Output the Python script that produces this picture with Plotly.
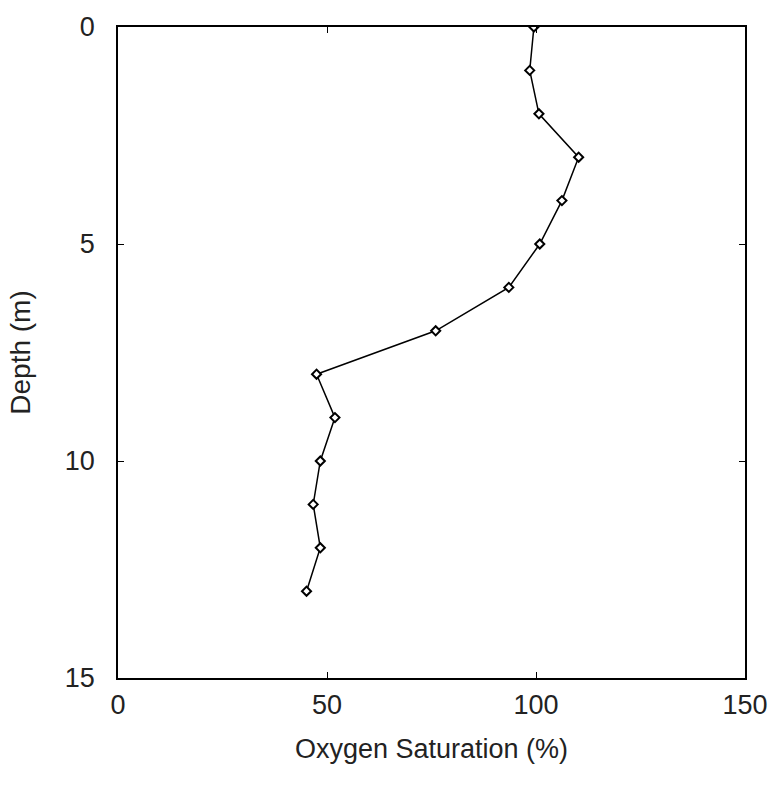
import plotly.graph_objects as go

depth = [0, 1, 2, 3, 4, 5, 6, 7, 8, 9, 10, 11, 12, 13]
oxygen_sat = [99.5, 98.5, 100.7, 110.2, 106.2, 100.9, 93.5, 76.0, 47.5, 51.9, 48.4, 46.7, 48.4, 45.1]

x_ticks = [0, 50, 100, 150]
y_ticks = [0, 5, 10, 15]

fig = go.Figure()
fig.add_trace(go.Scatter(
    x=oxygen_sat, y=depth, mode="lines+markers",
    line=dict(color="black", width=1.5),
    marker=dict(symbol="diamond", size=7, color="white",
                line=dict(color="black", width=2)),
    showlegend=False,
))

fam = "Liberation Sans, Arial, sans-serif"
txt = "#222"
fig.update_layout(
    width=780, height=787,
    margin=dict(l=118, r=27, t=24, b=109),
    paper_bgcolor="white", plot_bgcolor="white",
    font=dict(family=fam, color=txt),
    xaxis=dict(range=[0, 150], tickvals=x_ticks, showgrid=False, zeroline=False,
               showline=True, linecolor="black", linewidth=1.5, mirror="ticks",
               ticks="inside", ticklen=6, tickcolor="black",
               ticklabelstandoff=2,
               tickfont=dict(size=27, family=fam, color=txt),
               title=dict(text="Oxygen Saturation (%)", standoff=20,
                          font=dict(size=27, family=fam, color=txt))),
    yaxis=dict(range=[15, 0], tickvals=y_ticks, showgrid=False, zeroline=False,
               showline=True, linecolor="black", linewidth=1.5, mirror="ticks",
               ticks="inside", ticklen=6, tickcolor="black",
               ticklabelstandoff=16,
               tickfont=dict(size=27, family=fam, color=txt),
               title=dict(text="Depth (m)", standoff=26,
                          font=dict(size=28, family=fam, color=txt))),
)

fig.write_html("out.html")
